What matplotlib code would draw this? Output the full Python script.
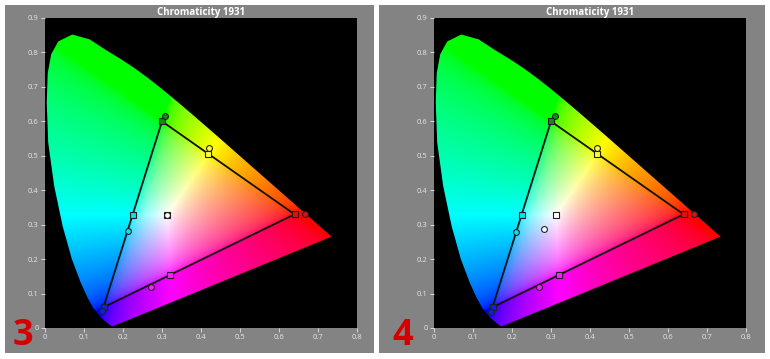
import numpy as np
import matplotlib
matplotlib.use('Agg')
import matplotlib.pyplot as plt
from matplotlib.patches import Polygon, Rectangle

plt.rcParams['font.family'] = ['Open Sans', 'DejaVu Sans']

# spectral locus (x, y), 380-700 nm, as drawn in the picture
locus_x = [0.1741, 0.1733, 0.1714, 0.1644, 0.1566, 0.1440, 0.1241, 0.1096, 0.0913,
           0.0687, 0.0454, 0.0235, 0.0082, 0.0045, 0.0070, 0.0160, 0.0340, 0.0700,
           0.1142, 0.1547, 0.1929, 0.2296, 0.2658, 0.3016, 0.3373, 0.3731, 0.4087,
           0.4441, 0.4788, 0.5125, 0.5448, 0.5752, 0.6029, 0.6270, 0.6482, 0.6658,
           0.6915, 0.7079, 0.7190, 0.7260, 0.7300, 0.7334, 0.7347]
locus_y = [0.0050, 0.0048, 0.0051, 0.0109, 0.0177, 0.0297, 0.0578, 0.0868, 0.1327,
           0.2007, 0.2950, 0.4127, 0.5384, 0.6548, 0.7400, 0.7950, 0.8320, 0.8520,
           0.8380, 0.8080, 0.7816, 0.7543, 0.7243, 0.6923, 0.6589, 0.6245, 0.5896,
           0.5547, 0.5202, 0.4866, 0.4544, 0.4242, 0.3965, 0.3725, 0.3514, 0.3340,
           0.3083, 0.2920, 0.2809, 0.2740, 0.2700, 0.2666, 0.2653]

# target gamut (squares): R, G, B, C, Y, M, W
target_names = ['red', 'green', 'blue', 'cyan', 'yellow', 'magenta', 'white']
target_x = [0.640, 0.300, 0.150, 0.225, 0.419, 0.321, 0.313]
target_y = [0.330, 0.600, 0.060, 0.329, 0.505, 0.154, 0.329]

# measured points (circles), panel 3 and panel 4
meas3_x = [0.667, 0.308, 0.145, 0.212, 0.420, 0.271, 0.314]
meas3_y = [0.331, 0.616, 0.049, 0.281, 0.522, 0.118, 0.329]
meas4_x = [0.667, 0.309, 0.146, 0.211, 0.419, 0.270, 0.282]
meas4_y = [0.330, 0.616, 0.047, 0.280, 0.522, 0.118, 0.288]

panel_labels = ['3', '4']

marker_colors = {'red': '#e01010', 'green': '#109010', 'blue': '#1020e0',
                 'cyan': '#10e0e0', 'yellow': '#ffff40', 'magenta': '#ff20ff',
                 'white': '#ffffff'}


def horseshoe_image(n=500):
    xs = np.linspace(0, 0.8, n)
    ys = np.linspace(0, 0.9, n)
    x, y = np.meshgrid(xs, ys)
    y = np.maximum(y, 1e-4)
    X = x / y
    Y = np.ones_like(x)
    Z = (1 - x - y) / y
    r = 3.2406 * X - 1.5372 * Y - 0.4986 * Z
    g = -0.9689 * X + 1.8758 * Y + 0.0415 * Z
    b = 0.0557 * X - 0.2040 * Y + 1.0570 * Z
    rgb = np.clip(np.stack([r, g, b], axis=-1), 0, None)
    rgb = rgb / np.maximum(rgb.max(axis=-1, keepdims=True), 1e-9)
    rgb = np.where(rgb <= 0.0031308, 12.92 * rgb, 1.055 * rgb ** (1 / 2.4) - 0.055)
    return np.clip(rgb, 0, 1)


W, H = 770, 359
fig = plt.figure(figsize=(W / 100, H / 100), dpi=100, facecolor='white')

# gray panel frames
for x0, x1 in [(5, 374), (379, 765)]:
    fig.patches.append(Rectangle((x0 / W, 6 / H), (x1 - x0) / W, 348 / H,
                                 transform=fig.transFigure, facecolor='#838383',
                                 edgecolor='none', zorder=-5))

img = horseshoe_image()
panels = [(45, 13, meas3_x, meas3_y), (434, 392, meas4_x, meas4_y)]

for i, (ax_left, num_left, mx, my) in enumerate(panels):
    ax = fig.add_axes([ax_left / W, (H - 328) / H, 312 / W, 310 / H])
    ax.set_zorder(2)
    ax.set_facecolor('black')

    im = ax.imshow(img, origin='lower', extent=[0, 0.8, 0, 0.9], aspect='auto',
                   interpolation='bilinear', zorder=1)
    shape = Polygon(np.column_stack([locus_x, locus_y]), closed=True,
                    transform=ax.transData, facecolor='none', edgecolor='none')
    ax.add_patch(shape)
    im.set_clip_path(shape)

    # triangle R-G-B
    tri_x = target_x[:3] + [target_x[0]]
    tri_y = target_y[:3] + [target_y[0]]
    ax.plot(tri_x, tri_y, color='#101010', lw=1.3, zorder=2)

    for k, name in enumerate(target_names):
        ax.plot(target_x[k], target_y[k], marker='s', ms=4.8,
                mfc=marker_colors[name], mec='#202020', mew=0.8, zorder=3)
        ax.plot(mx[k], my[k], marker='o', ms=4.2,
                mfc=marker_colors[name], mec='#202020', mew=0.8, zorder=4)

    ax.set_xlim(0, 0.8)
    ax.set_ylim(0, 0.9)
    ax.set_xticks(np.arange(0, 0.81, 0.1))
    ax.set_yticks(np.arange(0, 0.91, 0.1))
    ax.set_xticklabels(['0'] + ['%.1f' % v for v in np.arange(0.1, 0.81, 0.1)])
    ax.set_yticklabels(['0'] + ['%.1f' % v for v in np.arange(0.1, 0.91, 0.1)])
    ax.tick_params(colors='#e6e6e6', labelsize=5.5, length=3, width=0.6, pad=1.5)
    for s in ax.spines.values():
        s.set_visible(False)
    ax.set_title('Chromaticity 1931', color='white', fontsize=7,
                 fontweight='bold', pad=2)

    fig.text(num_left / W, (H - 345) / H, panel_labels[i], color='#d40000',
             fontsize=26, fontweight='bold', ha='left', va='baseline', zorder=5)

fig.savefig('out.png', dpi=100, facecolor='white')
